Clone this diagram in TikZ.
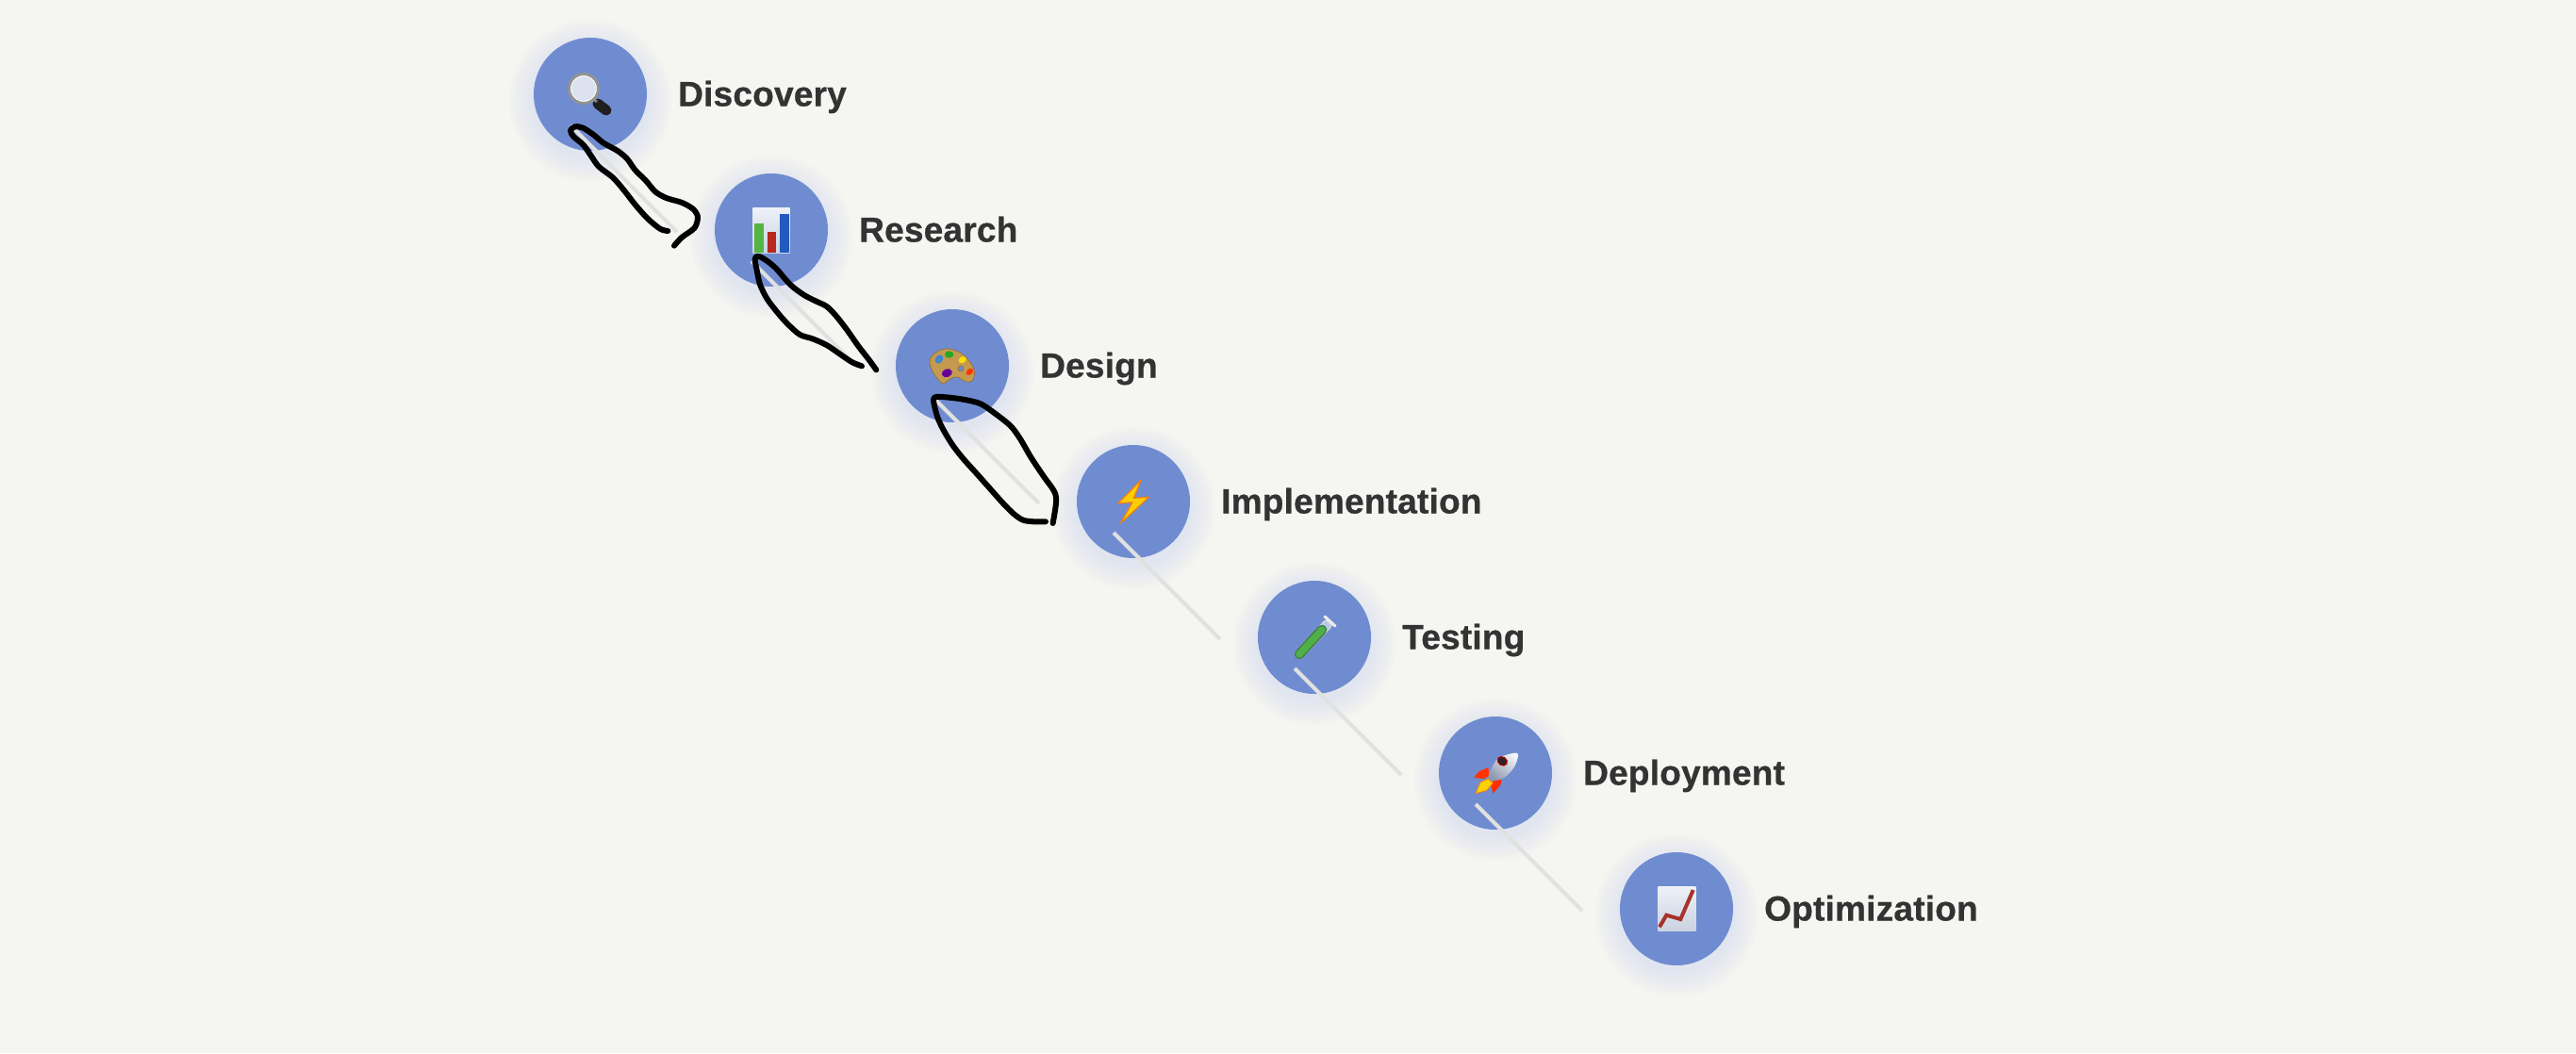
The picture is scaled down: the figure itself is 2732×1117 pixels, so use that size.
\documentclass[tikz,border=0pt]{standalone}
\usepackage{fontspec}
\setmainfont{Liberation Sans}[BoldFeatures={FakeBold=0.7,LetterSpace=0.6}]
\usetikzlibrary{calc}
\definecolor{pagebg}{HTML}{F5F5F2}
\definecolor{disc}{HTML}{708CD1}
\definecolor{halo}{HTML}{5F70F0}
\definecolor{wire}{HTML}{E1E1E1}
\definecolor{ink}{HTML}{333333}
\definecolor{lens}{HTML}{DDE2F0}
\definecolor{sheetA}{HTML}{EEF1F7}
\definecolor{sheetB}{HTML}{CBD3E2}
\definecolor{wood}{HTML}{C39A4F}
\definecolor{woodedge}{HTML}{8F6A2E}
\definecolor{metalA}{HTML}{F2F4F8}
\definecolor{metalB}{HTML}{8D99AE}
\definecolor{tubeglass}{HTML}{B5C9E6}
\definecolor{tubeedge}{HTML}{3F7A4B}
\definecolor{liquid}{HTML}{4FB04A}
\definecolor{barG}{HTML}{55B544}
\definecolor{barR}{HTML}{B52A1E}
\definecolor{barB}{HTML}{2459BE}
\definecolor{trend}{HTML}{A8322A}
\tikzset{
  x=1pt,y=-1pt,
  stage/.style={circle,fill=disc,minimum size=120pt,inner sep=0pt,outer sep=0pt},
  caption/.style={anchor=base west,text=ink,inner sep=0pt,font=\fontsize{37}{40}\selectfont\bfseries},
  wireline/.style={draw=wire,line width=4pt},
  scribble/.style={draw=black,line width=6pt,line cap=round,line join=round},
  zoomed/.style={x=.3333pt,y=-.3333pt}
}
\newcommand{\halofor}[2]{%
  \foreach \rr in {62,66,...,86}{\fill[halo,opacity=.014] (#1,#2+7) circle[radius=\rr pt];}}
\begin{document}
\begin{tikzpicture}
\useasboundingbox (0,0) rectangle (2732,1117);
\fill[pagebg] (0,0) rectangle (2732,1117);
% shadows
\halofor{626}{100}\halofor{818}{244}\halofor{1010}{388}\halofor{1202}{532}\halofor{1394}{676}\halofor{1586}{820}\halofor{1778}{964}
% stages
\node[stage] (n1) at (626,100) {};
\node[stage] (n2) at (818,244) {};
\node[stage] (n3) at (1010,388) {};
\node[stage] (n4) at (1202,532) {};
\node[stage] (n5) at (1394,676) {};
\node[stage] (n6) at (1586,820) {};
\node[stage] (n7) at (1778,964) {};
% labels
\node[caption] (t1) at (719,112.5) {Discovery};
\node[caption] (t2) at (911,256.5) {Research};
\node[caption] (t3) at (1103,400.5) {Design};
\node[caption] (t4) at (1295,544.5) {Implementation};
\node[caption] (t5) at (1487,688.5) {Testing};
\node[caption] (t6) at (1679,832.5) {Deployment};
\node[caption] (t7) at (1871,976.5) {Optimization};
% connectors
\foreach \i in {1,...,6}{
  \coordinate (s\i) at ($(n\i)+(-21,33)$);
  \coordinate (e\i) at ($(s\i)+(113,113)$);
  \draw[wireline] (s\i) -- (e\i);
}
% magnifier
\draw[line width=11pt,line cap=round,draw=black!88] (634,110) -- (643,117);
\draw[line width=3pt,draw=gray] (628,104) -- (633,108);
\fill[draw=gray!85,line width=3pt,fill=white] (619,94) circle[radius=15.5pt];
\fill[fill=lens] (619,94) circle[radius=13pt];
% bar chart
\shade[top color=sheetA,bottom color=sheetB] (798.3,220) rectangle (837.7,268);
\fill[barG] (800.2,237) rectangle (809.8,268);
\fill[barR] (813.6,245.7) rectangle (823.2,268);
\fill[barB] (827,226.7) rectangle (836.6,268);
% palette
\begin{scope}[shift={(970,355)},zoomed]
\fill[draw=woodedge,line width=.6pt,fill=wood,even odd rule]
  plot[smooth cycle,tension=.6] coordinates {(50,75)(75,52)(110,45)(150,60)(175,85)(190,115)(185,145)(165,150)(135,135)(115,140)(90,155)(65,130)(50,100)}
  (147,108) circle[radius=3pt];
\fill[cyan!55!blue!80!white] (78,78) ellipse[x radius=12,y radius=15,rotate=-35];
\fill[green!60!black!85!white] (110,63) ellipse[x radius=14,y radius=11];
\fill[yellow!80!orange] (152,80) ellipse[x radius=13,y radius=10,rotate=30];
\fill[red!55!orange] (175,118) ellipse[x radius=13,y radius=9,rotate=40];
\fill[violet!80!blue] (103,122) ellipse[x radius=17,y radius=13,rotate=20];
\end{scope}
% bolt
\fill[fill=yellow!65!orange,draw=orange!85!brown,line width=1.2pt,line join=round]
  (1210,509.3) -- (1185.8,534) -- (1201,532.7) -- (1188.5,555) -- (1218.4,527.3) -- (1202.3,528.3) -- cycle;
% test tube
\draw[line width=10.5pt,draw=white!70!gray,line cap=round] (1378,694) -- (1408,662);
\draw[line width=7.5pt,draw=tubeglass] (1392,679) -- (1409,661);
\draw[line width=10.5pt,draw=tubeedge,line cap=round] (1378,694) -- (1402,668);
\draw[line width=7.5pt,draw=liquid,line cap=round] (1378,694) -- (1402,668);
\draw[line width=3pt,draw=white!85!gray,line cap=round] (1405,654) -- (1416,664);
% rocket
\begin{scope}[shift={(1550,790)},zoomed]
\fill[red!60!orange] (85,72) -- (55,85) -- (40,105) -- (70,108) -- (88,100) -- cycle;
\fill[red!65!orange] (128,112) -- (123,130) -- (100,155) -- (93,125) -- (105,110) -- cycle;
\fill[yellow!70!orange,draw=orange,line width=.8pt] (85,108) -- (60,120) -- (45,155) -- (80,145) -- (100,122) -- cycle;
\shade[top color=metalA,bottom color=metalB,shading angle=-40]
  plot[smooth cycle,tension=.6] coordinates {(178,27)(150,30)(115,45)(95,75)(85,105)(100,115)(135,105)(165,75)(178,45)};
\fill[black!85,draw=red!70!black,line width=1.2pt] (130,52) ellipse[x radius=16,y radius=13,rotate=-35];
\end{scope}
% line chart
\shade[top color=sheetA,bottom color=sheetB] (1758.3,940) rectangle (1798.3,987);
\draw[draw=trend,line width=4pt,line join=miter] (1760,983.3) -- (1767.3,970.7) -- (1782.3,975) -- (1795.7,944);
% hand-drawn marks
\begin{scope}[shift={(590,120)},zoomed]
\draw[scribble] plot[smooth,tension=.5] coordinates {(355,375)(330,368)(290,335)(250,290)(215,245)(180,205)(135,170)(110,135)(85,100)(55,75)(45,55)(60,43)(85,47)(120,70)(150,95)(195,120)(225,145)(250,180)(285,215)(315,250)(350,270)(400,285)(435,305)(450,330)(440,365)(400,395)(375,422)};
\end{scope}
\begin{scope}[shift={(790,260)},zoomed]
\draw[scribble] plot[smooth,tension=.5] coordinates {(372,385)(340,372)(300,345)(260,318)(215,298)(175,285)(135,250)(100,210)(70,170)(48,125)(38,80)(32,45)(42,35)(70,50)(100,75)(130,110)(155,135)(190,160)(225,178)(260,195)(290,225)(325,270)(360,320)(395,365)(418,397)};
\end{scope}
\begin{scope}[shift={(980,410)},zoomed]
\draw[scribble] plot[smooth,tension=.5] coordinates {(387,430)(350,430)(315,425)(285,405)(250,370)(210,325)(170,280)(125,230)(90,185)(60,135)(42,95)(30,45)(38,33)(80,35)(130,42)(180,55)(225,85)(275,125)(305,165)(340,225)(380,285)(415,335)(420,370)(410,435)};
\end{scope}
\end{tikzpicture}
\end{document}
